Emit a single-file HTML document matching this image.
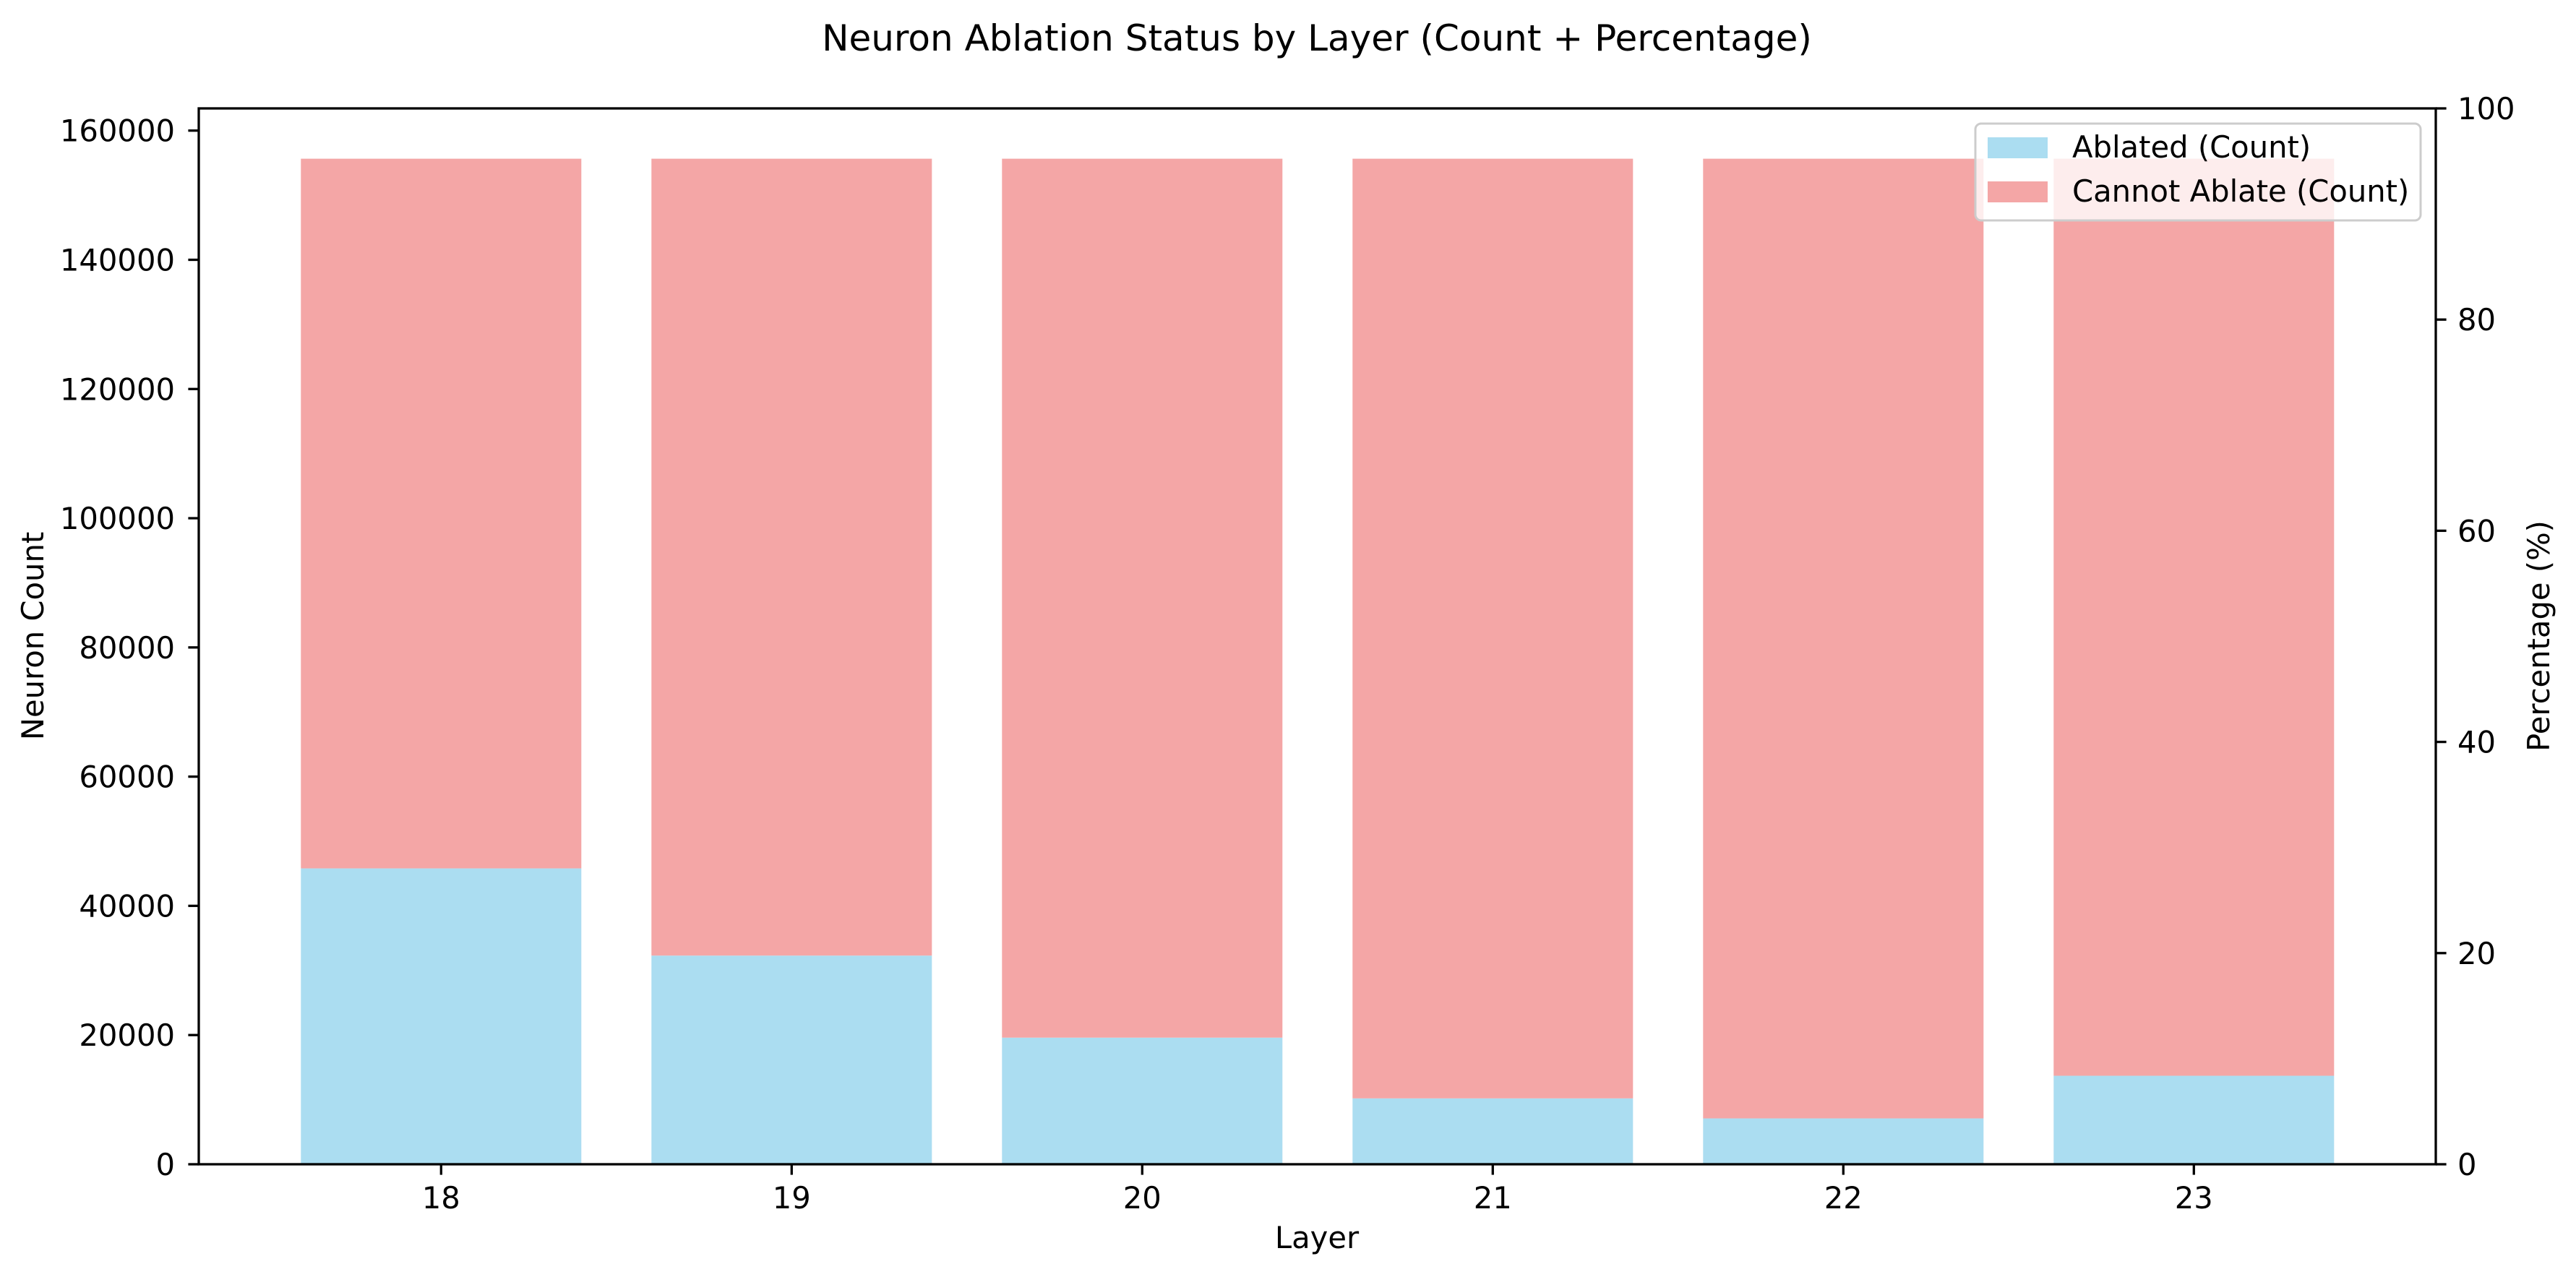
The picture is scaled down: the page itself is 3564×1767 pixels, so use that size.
<!DOCTYPE html>
<html><head><meta charset="utf-8"><style>
html,body{margin:0;padding:0;background:#fff;}
svg{display:block;font-family:"DejaVu Sans","Liberation Sans",sans-serif;}
</style></head><body>
<svg id="chart" width="3564" height="1767" viewBox="0 0 3564 1767" xmlns="http://www.w3.org/2000/svg">
<rect width="3564" height="1767" fill="#fff"/>
<text x="1822" y="70" font-size="50" text-anchor="middle" fill="#000">Neuron Ablation Status by Layer (Count + Percentage)</text>
<g id="bars"></g>
<g id="axes"></g>
<text x="1822" y="1727" font-size="41.7" text-anchor="middle">Layer</text>
<text transform="translate(60,880) rotate(-90)" font-size="41.7" text-anchor="middle">Neuron Count</text>
<text transform="translate(3527,880) rotate(-90)" font-size="41.7" text-anchor="middle">Percentage (%)</text>
<g>
<rect x="2733" y="171" width="616" height="134" rx="8" fill="rgba(255,255,255,0.8)" stroke="#cccccc" stroke-width="3"/>
<rect x="2750" y="190" width="83" height="29" fill="#abddf1"/>
<text x="2867" y="218" font-size="41.7">Ablated (Count)</text>
<rect x="2750" y="251" width="83" height="29" fill="#f4a6a6"/>
<text x="2867" y="279" font-size="41.7">Cannot Ablate (Count)</text>
</g>
</svg>
<script>
const layers = ["18","19","20","21","22","23"];
const ablated = [45800, 32300, 19600, 10200, 7100, 13700];
const totals = [155648, 155648, 155648, 155648, 155648, 155648];
const yTicks = [0,20000,40000,60000,80000,100000,120000,140000,160000];
const y2Ticks = [0,20,40,60,80,100];

const NS="http://www.w3.org/2000/svg";
const L=275, R=3370, T=150, B=1611;
const x0=610.3, step=485, bw=0.8*step;
const y160=180.7;
function xs(i){return x0+i*step;}
function ys(v){return B-(B-y160)*v/160000;}
function y2s(v){return B-(B-T)*v/100;}
function mk(tag,attrs,parent){const e=document.createElementNS(NS,tag);for(const k in attrs)e.setAttribute(k,attrs[k]);parent.appendChild(e);return e;}
const bars=document.getElementById('bars'), axes=document.getElementById('axes');
layers.forEach((l,i)=>{
  const cx=xs(i);
  const a=mk('rect',{x:cx-bw/2,y:ys(ablated[i]),width:bw,height:B-ys(ablated[i]),fill:'#abddf1'},bars);
  
  
  const c=mk('rect',{x:cx-bw/2,y:ys(totals[i]),width:bw,height:ys(ablated[i])-ys(totals[i]),fill:'#f4a6a6'},bars);
  
  
  mk('line',{x1:cx,x2:cx,y1:B,y2:B+14.6,stroke:'#000','stroke-width':3.3},axes);
  const t=mk('text',{x:cx,y:1672,'font-size':41.7,'text-anchor':'middle'},axes);
  t.textContent=l;
  
  
});
yTicks.forEach(v=>{
  const y=ys(v);
  mk('line',{x1:L-14.6,x2:L,y1:y,y2:y,stroke:'#000','stroke-width':3.3},axes);
  const t=mk('text',{x:242,y:y+15,'font-size':41.7,'text-anchor':'end'},axes);
  t.textContent=String(v);
  
  
});
y2Ticks.forEach(v=>{
  const y=y2s(v);
  mk('line',{x1:R,x2:R+14.6,y1:y,y2:y,stroke:'#000','stroke-width':3.3},axes);
  const t=mk('text',{x:3400,y:y+15,'font-size':41.7,'text-anchor':'start'},axes);
  t.textContent=String(v);
  
  
});
const fr=mk('rect',{x:L,y:T,width:R-L,height:B-T,fill:'none',stroke:'#000','stroke-width':3.3},axes);


</script>
</body></html>
